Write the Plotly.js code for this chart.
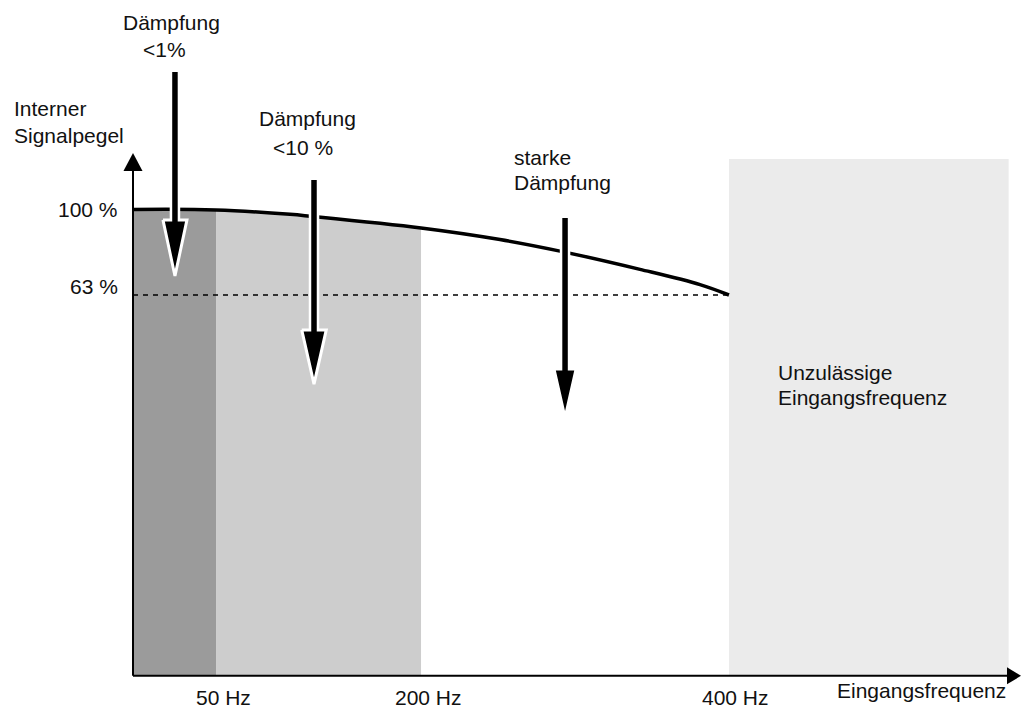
<!DOCTYPE html>
<html>
<head>
<meta charset="utf-8">
<script src="https://cdn.plot.ly/plotly-3.0.1.min.js"></script>
<style>html,body{margin:0;padding:0;background:#fff;}#chart{width:1022px;height:711px;}</style>
</head>
<body>
<div id="chart"></div>
<script>
// ---------- data ----------
const freqLabels = ['50 Hz', '200 Hz', '400 Hz'];
const freqPos = [9.34, 32.40, 67.04];            // schematic position of each frequency on the axis
const levelLabels = ['100 %', '63 %'];
const levelVals = [100, 63];
const curveX = [0, 9.34, 17.66, 19.91, 32.40, 41.28, 48.03, 57.03, 63.78, 67.04];
const curveY = [100, 99.8, 97.9, 97.1, 92.0, 87.0, 82.0, 74.1, 67.5, 63.0];
const axisBase = -101.8;
const forbiddenEnd = 98.5;
const forbiddenTop = 121.9;
const arrowX = [4.72, 20.36, 48.6];
const arrowTop = [159.5, 112.8, 96.3];
const arrowBase = [95.5, 47.9, 31.0];
const arrowTip = [71.2, 24.4, 9.8];
const arrowHalfW = [1.35, 1.38, 1.25];
const yAxisTip = 124.45, yAxisHeadBase = 116.66, yAxisHeadHalf = 1.07;
const xAxisTip = 99.89, xAxisHeadBase = 98.31, xAxisHeadHalf = 3.68;

const W = 1022, H = 711;
const FONT = {family: '"Liberation Sans", Arial, sans-serif', size: 21, color: '#111'};

// ---------- traces ----------
const traces = [];
function poly(x, y, fill) {
  traces.push({type: 'scatter', mode: 'lines', x: x, y: y, fill: 'toself', fillcolor: fill,
    line: {width: 0, color: fill}, hoverinfo: 'skip', showlegend: false});
}
function band(x0, x1, fill) {
  const xs = [x0], ys = [axisBase];
  curveX.forEach((v, i) => { if (v >= x0 - 1e-9 && v <= x1 + 1e-9) { xs.push(v); ys.push(curveY[i]); } });
  xs.push(x1); ys.push(axisBase);
  poly(xs, ys, fill);
}
// forbidden zone
poly([freqPos[2], freqPos[2], forbiddenEnd, forbiddenEnd], [axisBase, forbiddenTop, forbiddenTop, axisBase], '#ebebeb');
band(0, freqPos[0], '#9b9b9b');
band(freqPos[0], freqPos[1], '#cdcdcd');

// dashed 63 % line
traces.push({type: 'scatter', mode: 'lines', x: [0, freqPos[2]], y: [levelVals[1], levelVals[1]],
  line: {color: '#000', width: 1.6, dash: '5px,5px'}, hoverinfo: 'skip', showlegend: false});
// signal curve
traces.push({type: 'scatter', mode: 'lines', x: curveX, y: curveY,
  line: {color: '#000', width: 3.5, shape: 'spline', smoothing: 1}, hoverinfo: 'skip', showlegend: false});

// axes
traces.push({type: 'scatter', mode: 'lines', x: [0, 0], y: [axisBase, yAxisHeadBase + 1],
  line: {color: '#000', width: 2}, hoverinfo: 'skip', showlegend: false});
traces.push({type: 'scatter', mode: 'lines', x: [0, xAxisHeadBase + 0.3], y: [axisBase, axisBase],
  line: {color: '#000', width: 2}, hoverinfo: 'skip', showlegend: false});
traces.push({type: 'scatter', mode: 'lines', x: [-yAxisHeadHalf, 0, yAxisHeadHalf, -yAxisHeadHalf],
  y: [yAxisHeadBase, yAxisTip, yAxisHeadBase, yAxisHeadBase], fill: 'toself', fillcolor: '#000',
  line: {width: 0, color: '#000'}, hoverinfo: 'skip', showlegend: false});
traces.push({type: 'scatter', mode: 'lines', x: [xAxisHeadBase, xAxisTip, xAxisHeadBase, xAxisHeadBase],
  y: [axisBase - xAxisHeadHalf, axisBase, axisBase + xAxisHeadHalf, axisBase - xAxisHeadHalf], fill: 'toself', fillcolor: '#000',
  line: {width: 0, color: '#000'}, hoverinfo: 'skip', showlegend: false});

// attenuation arrows
arrowX.forEach((ax, i) => {
  traces.push({type: 'scatter', mode: 'lines', x: [ax, ax], y: [arrowTop[i], arrowBase[i]],
    line: {color: '#fff', width: 10.5}, hoverinfo: 'skip', showlegend: false});
  traces.push({type: 'scatter', mode: 'lines',
    x: [ax - arrowHalfW[i], ax, ax + arrowHalfW[i], ax - arrowHalfW[i]],
    y: [arrowBase[i], arrowTip[i], arrowBase[i], arrowBase[i]],
    fill: 'toself', fillcolor: '#000', line: {color: '#fff', width: 3}, hoverinfo: 'skip', showlegend: false});
  traces.push({type: 'scatter', mode: 'lines', x: [ax, ax], y: [arrowTop[i], arrowBase[i] - 2.5],
    line: {color: '#000', width: 5.5}, hoverinfo: 'skip', showlegend: false});
});

// ---------- text ----------
const P = (px, py) => ({x: px / W, y: 1 - py / H});
const anns = [];
function txt(text, px, py, xanchor) {
  const p = P(px, py);
  anns.push({text: text, xref: 'paper', yref: 'paper', x: p.x, y: p.y, xanchor: xanchor, yanchor: 'middle',
    showarrow: false, font: FONT});
}
txt('Dämpfung', 171, 22, 'center');
txt('&lt;1%', 164, 50, 'center');
txt('Interner', 12, 109, 'left');
txt('Signalpegel', 12, 135, 'left');
txt('Dämpfung', 307, 118.5, 'center');
txt('&lt;10 %', 303, 148, 'center');
txt('starke', 512, 157, 'left');
txt('Dämpfung', 512, 182.5, 'left');
txt('Unzulässige', 776, 372, 'left');
txt('Eingangsfrequenz', 776, 397, 'left');
txt('Eingangsfrequenz', 1008, 690, 'right');
levelLabels.forEach((t, i) => {
  anns.push({text: t, xref: 'x', yref: 'y', x: 0, y: levelVals[i], xanchor: 'right', yanchor: 'middle',
    xshift: -13, yshift: i === 0 ? 0 : 9, showarrow: false, font: FONT});
});
freqLabels.forEach((t, i) => {
  anns.push({text: t, xref: 'x', yref: 'paper', x: freqPos[i], y: 1 - 697.5 / H, xanchor: 'center', yanchor: 'middle',
    xshift: 7, showarrow: false, font: FONT});
});

const layout = {
  width: W, height: H,
  margin: {l: 0, r: 0, t: 0, b: 0, pad: 0},
  paper_bgcolor: '#fff', plot_bgcolor: '#fff',
  showlegend: false,
  xaxis: {range: [-14.96, 100], visible: false, fixedrange: true},
  yaxis: {range: [-117.02, 190.66], visible: false, fixedrange: true},
  annotations: anns
};
Plotly.newPlot('chart', traces, layout, {staticPlot: true, displayModeBar: false});
</script>
</body>
</html>
